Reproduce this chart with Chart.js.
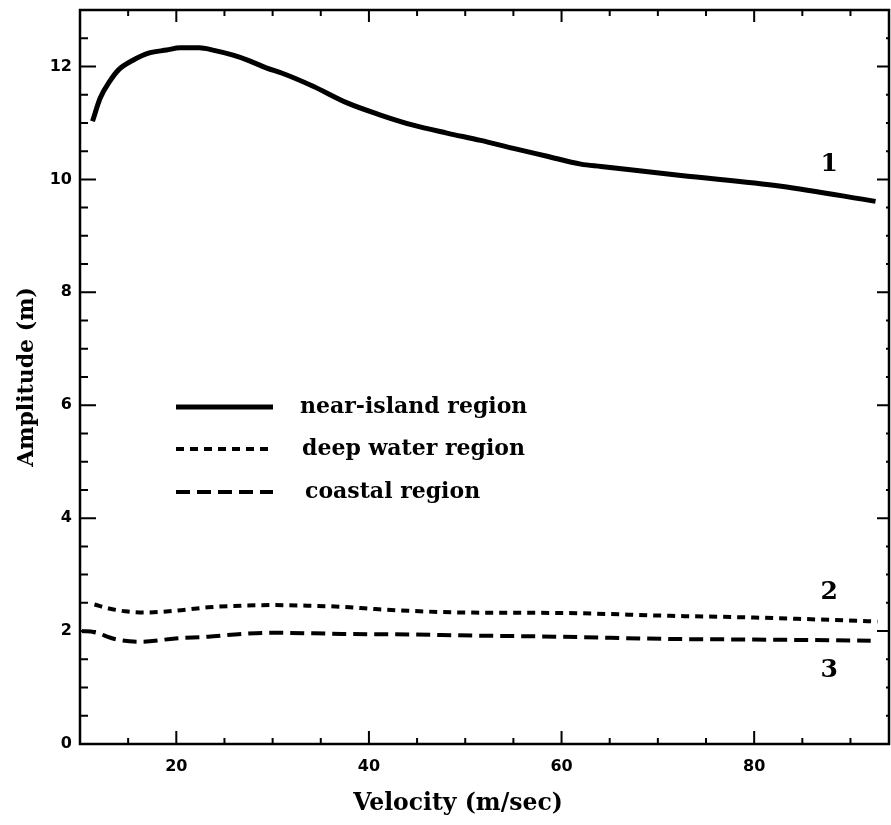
<!DOCTYPE html>
<html>
<head>
<meta charset="utf-8">
<script src="https://cdn.jsdelivr.net/npm/chart.js@4/dist/chart.umd.min.js"></script>
<style>
  html, body { margin: 0; padding: 0; background: #fff; }
  canvas { display: block; }
</style>
</head>
<body>
<canvas id="c" width="891" height="825"></canvas>
<script>
// ---- data ----
const seriesNames = ['near-island region', 'deep water region', 'coastal region'];

const nearIslandX = [11.3, 12.1, 13.1, 14.0, 15.5, 17.2, 19.0, 20.4, 22.4, 23.8, 25.9, 27.6, 29.4, 31.0, 34.2, 37.8, 41.2, 44.6, 48.1, 51.6, 55.0, 58.5, 62.0, 64.1, 72.4, 82.8, 92.6];
const nearIslandY = [11.03, 11.44, 11.74, 11.94, 12.11, 12.24, 12.29, 12.33, 12.33, 12.29, 12.20, 12.10, 11.97, 11.88, 11.65, 11.35, 11.14, 10.96, 10.82, 10.69, 10.55, 10.41, 10.27, 10.23, 10.07, 9.88, 9.61];

const deepWaterX = [11.5, 13.0, 14.7, 16.8, 19.9, 23.3, 26.8, 30.3, 33.7, 37.2, 40.7, 44.1, 49.3, 60.0, 71.3, 80.0, 92.8];
const deepWaterY = [2.47, 2.40, 2.35, 2.33, 2.36, 2.42, 2.45, 2.46, 2.45, 2.43, 2.39, 2.36, 2.33, 2.32, 2.27, 2.24, 2.17];

const coastalX = [10.2, 11.5, 13.6, 16.4, 19.9, 23.3, 26.8, 30.3, 37.2, 44.1, 51.0, 60.0, 71.3, 80.0, 92.1];
const coastalY = [2.00, 1.98, 1.86, 1.81, 1.87, 1.90, 1.95, 1.97, 1.95, 1.94, 1.92, 1.90, 1.86, 1.85, 1.83];

const xTickValues = [20, 40, 60, 80];
const yTickValues = [0, 2, 4, 6, 8, 10, 12];
const curveTags = ['1', '2', '3'];
const curveTagX = [87.8, 87.8, 87.8];
const curveTagY = [10.27, 2.68, 1.31];

const xTitle = 'Velocity (m/sec)';
const yTitle = 'Amplitude (m)';

// ---- build ----
function pts(xs, ys) { return xs.map((x, i) => ({ x: x, y: ys[i] })); }

const serifBold = '"DejaVu Serif", "Liberation Serif", serif';
const sansBold = '"DejaVu Sans", "Liberation Sans", sans-serif';

const datasets = [
  { label: seriesNames[0], data: pts(nearIslandX, nearIslandY), borderColor: '#000', borderWidth: 5, borderDash: [] },
  { label: seriesNames[1], data: pts(deepWaterX, deepWaterY), borderColor: '#000', borderWidth: 4, borderDash: [8, 6] },
  { label: seriesNames[2], data: pts(coastalX, coastalY), borderColor: '#000', borderWidth: 4, borderDash: [14, 7] }
].map(d => Object.assign(d, { pointRadius: 0, fill: false, cubicInterpolationMode: 'monotone', borderCapStyle: 'butt', borderJoinStyle: 'round' }));

const framePlugin = {
  id: 'frame',
  beforeDraw(chart) {
    const ctx = chart.ctx;
    ctx.save();
    ctx.fillStyle = '#fff';
    ctx.fillRect(0, 0, chart.width, chart.height);
    ctx.restore();
  },
  afterDraw(chart) {
    const ctx = chart.ctx;
    const a = chart.chartArea;
    const xs = chart.scales.x, ys = chart.scales.y;
    ctx.save();
    ctx.strokeStyle = '#000';
    ctx.lineWidth = 2.5;
    ctx.strokeRect(a.left, a.top, a.right - a.left, a.bottom - a.top);
    ctx.lineWidth = 2;
    ctx.beginPath();
    // x ticks every 5
    for (let v = 15; v < xs.max; v += 5) {
      const px = xs.getPixelForValue(v);
      const major = v % 20 === 0;
      ctx.moveTo(px, a.bottom); ctx.lineTo(px, a.bottom - (major ? 13 : 6));
      ctx.moveTo(px, a.top); ctx.lineTo(px, a.top + (major ? 12 : 6));
    }
    // y ticks every 0.5
    for (let v = 0.5; v < ys.max; v += 0.5) {
      const py = ys.getPixelForValue(v);
      const major = Math.abs(v % 2) < 1e-9;
      ctx.moveTo(a.left, py); ctx.lineTo(a.left + (major ? 16 : 8), py);
      ctx.moveTo(a.right, py); ctx.lineTo(a.right - (major ? 12 : 3), py);
    }
    ctx.stroke();

    // curve tags
    ctx.fillStyle = '#000';
    ctx.font = 'bold 25px ' + serifBold;
    ctx.textAlign = 'center';
    ctx.textBaseline = 'middle';
    curveTags.forEach((t, i) => {
      ctx.fillText(t, xs.getPixelForValue(curveTagX[i]), ys.getPixelForValue(curveTagY[i]));
    });

    // legend (inside plot)
    const rowsY = [407, 449, 492];
    const textX = [300, 302, 305];
    ctx.font = 'bold 22px ' + serifBold;
    ctx.textAlign = 'left';
    chart.data.datasets.forEach((d, i) => {
      ctx.beginPath();
      ctx.lineWidth = d.borderWidth;
      ctx.setLineDash(d.borderDash);
      ctx.moveTo(176, rowsY[i]);
      ctx.lineTo(273, rowsY[i]);
      ctx.stroke();
      ctx.setLineDash([]);
      ctx.fillText(d.label, textX[i], rowsY[i]);
    });

    // x axis title
    ctx.font = 'bold 23.5px ' + serifBold;
    ctx.textAlign = 'center';
    ctx.fillText(xTitle, 458, 804);
    ctx.restore();
  }
};

new Chart(document.getElementById('c'), {
  type: 'line',
  data: { datasets: datasets },
  options: {
    responsive: false,
    animation: false,
    events: [],
    layout: { padding: { top: 10, right: 2, left: 0, bottom: 0 } },
    plugins: { legend: { display: false }, tooltip: { enabled: false } },
    scales: {
      x: {
        type: 'linear',
        min: 10, max: 94,
        grid: { display: false, drawTicks: false },
        border: { display: false },
        afterBuildTicks: s => { s.ticks = xTickValues.map(v => ({ value: v })); },
        afterFit: s => { s.height = 81; s.paddingLeft = 0; s.paddingRight = 0; },
        ticks: { color: '#000', padding: 13, font: { family: sansBold, weight: 'bold', size: 16 } },
        title: { display: false }
      },
      y: {
        type: 'linear',
        min: 0, max: 13,
        grid: { display: false, drawTicks: false },
        border: { display: false },
        afterBuildTicks: s => { s.ticks = yTickValues.map(v => ({ value: v })); },
        afterFit: s => { s.width = 80; s.paddingTop = 0; s.paddingBottom = 0; },
        ticks: { color: '#000', padding: 8, font: { family: sansBold, weight: 'bold', size: 16 } },
        title: { display: true, text: yTitle, color: '#000', padding: { top: 14, bottom: 0 }, font: { family: serifBold, weight: 'bold', size: 22 } }
      }
    }
  },
  plugins: [framePlugin]
});
</script>
</body>
</html>
